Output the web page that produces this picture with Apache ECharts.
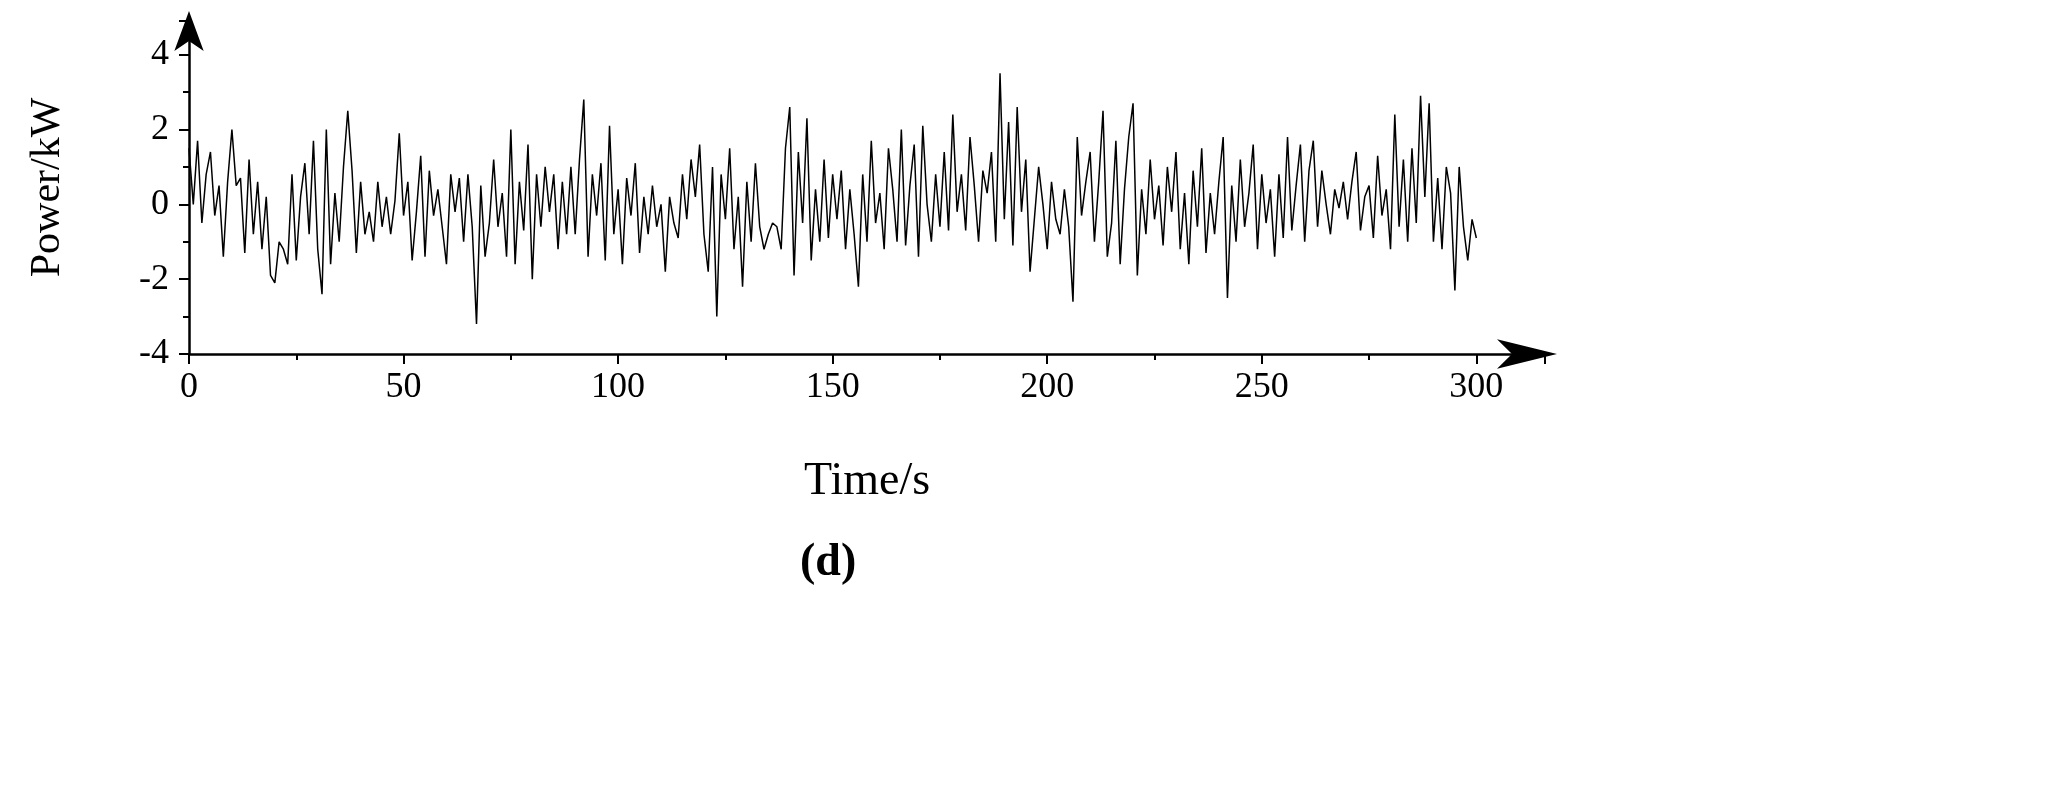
<!DOCTYPE html>
<html>
<head>
<meta charset="utf-8">
<script src="https://cdn.jsdelivr.net/npm/echarts@6/dist/echarts.min.js"></script>
<style>
  html, body { margin: 0; padding: 0; background: #fff; }
  #chart { width: 2053px; height: 804px; }
</style>
</head>
<body>
<div id="chart"></div>
<script>
// 功率信号, 每秒一个点
var powerValues = [
  1.5, 0.0, 1.7, -0.5, 0.8, 1.4, -0.3, 0.5, -1.4, 0.6,
  2.0, 0.5, 0.7, -1.3, 1.2, -0.8, 0.6, -1.2, 0.2, -1.9,
  -2.1, -1.0, -1.2, -1.6, 0.8, -1.5, 0.2, 1.1, -0.8, 1.7,
  -1.2, -2.4, 2.0, -1.6, 0.3, -1.0, 1.0, 2.5, 0.9, -1.3,
  0.6, -0.8, -0.2, -1.0, 0.6, -0.6, 0.2, -0.8, 0.1, 1.9,
  -0.3, 0.6, -1.5, -0.2, 1.3, -1.4, 0.9, -0.3, 0.4, -0.6,
  -1.6, 0.8, -0.2, 0.7, -1.0, 0.8, -0.6, -3.2, 0.5, -1.4,
  -0.5, 1.2, -0.6, 0.3, -1.4, 2.0, -1.6, 0.6, -0.7, 1.6,
  -2.0, 0.8, -0.6, 1.0, -0.2, 0.8, -1.2, 0.6, -0.8, 1.0,
  -0.8, 1.2, 2.8, -1.4, 0.8, -0.3, 1.1, -1.5, 2.1, -0.8,
  0.4, -1.6, 0.7, -0.3, 1.1, -1.3, 0.2, -0.8, 0.5, -0.6,
  0.0, -1.8, 0.2, -0.5, -0.9, 0.8, -0.4, 1.2, 0.2, 1.6,
  -0.8, -1.8, 1.0, -3.0, 0.8, -0.4, 1.5, -1.2, 0.2, -2.2,
  0.6, -1.0, 1.1, -0.6, -1.2, -0.8, -0.5, -0.6, -1.2, 1.5,
  2.6, -1.9, 1.4, -0.5, 2.3, -1.5, 0.4, -1.0, 1.2, -0.9,
  0.8, -0.4, 0.9, -1.2, 0.4, -0.8, -2.2, 0.8, -1.0, 1.7,
  -0.5, 0.3, -1.2, 1.5, 0.4, -1.0, 2.0, -1.1, 0.5, 1.6,
  -1.4, 2.1, 0.0, -1.0, 0.8, -0.6, 1.4, -0.7, 2.4, -0.2,
  0.8, -0.7, 1.8, 0.5, -1.0, 0.9, 0.3, 1.4, -1.0, 3.5,
  -0.4, 2.2, -1.1, 2.6, -0.2, 1.2, -1.8, -0.4, 1.0, 0.0,
  -1.2, 0.6, -0.4, -0.8, 0.4, -0.6, -2.6, 1.8, -0.3, 0.6,
  1.4, -1.0, 0.6, 2.5, -1.4, -0.5, 1.7, -1.6, 0.4, 1.8,
  2.7, -1.9, 0.4, -0.8, 1.2, -0.4, 0.5, -1.1, 1.0, -0.2,
  1.4, -1.2, 0.3, -1.6, 0.9, -0.6, 1.5, -1.3, 0.3, -0.8,
  0.6, 1.8, -2.5, 0.5, -1.0, 1.2, -0.6, 0.3, 1.6, -1.2,
  0.8, -0.5, 0.4, -1.4, 0.8, -0.9, 1.8, -0.7, 0.5, 1.6,
  -1.0, 0.9, 1.7, -0.6, 0.9, 0.0, -0.8, 0.4, -0.1, 0.6,
  -0.4, 0.6, 1.4, -0.7, 0.2, 0.5, -0.9, 1.3, -0.3, 0.4,
  -1.2, 2.4, -0.6, 1.2, -1.0, 1.5, -0.5, 2.9, 0.2, 2.7,
  -1.0, 0.7, -1.2, 1.0, 0.3, -2.3, 1.0, -0.6, -1.5, -0.4,
  -0.9
];
var timeStep = 1;
var xTickLabels = [0, 50, 100, 150, 200, 250, 300];
var yTickLabels = [-4, -2, 0, 2, 4];

var seriesData = powerValues.map(function (v, i) { return [i * timeStep, v]; });

var chart = echarts.init(document.getElementById('chart'));
var font = 'Liberation Serif';

var option = {
    animation: false,
    backgroundColor: '#fff',
    grid: { left: 189, right: 508, top: 21, bottom: 450 },
    xAxis: {
        type: 'value',
        min: 0, max: 316, interval: 50,
        axisLine: { onZero: false, lineStyle: { color: '#000', width: 2.5 }, symbol: ['none', 'arrow'], symbolSize: [22, 60], symbolOffset: [0, 12] },
        axisTick: { show: true, length: 10, lineStyle: { color: '#000', width: 2 } },
        minorTick: { show: true, splitNumber: 2, length: 6, lineStyle: { color: '#000', width: 2 } },
        axisLabel: {
            color: '#000', fontFamily: font, fontSize: 36, margin: 16,
            formatter: function (v) { return xTickLabels.indexOf(v) >= 0 ? v : ''; }
        },
        splitLine: { show: false },
        name: 'Time/s', nameLocation: 'middle', nameGap: 105,
        nameTextStyle: { color: '#000', fontFamily: font, fontSize: 46 }
    },
    yAxis: {
        type: 'value',
        min: -4, max: 4.9, interval: 2,
        axisLine: { show: true, onZero: false, lineStyle: { color: '#000', width: 2.5 }, symbol: ['none', 'arrow'], symbolSize: [22, 40], symbolOffset: [0, 10] },
        axisTick: { show: true, length: 10, lineStyle: { color: '#000', width: 2 } },
        minorTick: { show: true, splitNumber: 2, length: 6, lineStyle: { color: '#000', width: 2 } },
        axisLabel: {
            color: '#000', fontFamily: font, fontSize: 36, margin: 20,
            formatter: function (v) { return yTickLabels.indexOf(v) >= 0 ? v : ''; }
        },
        splitLine: { show: false },
        name: 'Power/kW', nameLocation: 'middle', nameGap: 120, nameRotate: 90,
        nameTextStyle: { color: '#000', fontFamily: font, fontSize: 42 }
    },
    graphic: [{
        type: 'text', left: 800, top: 540,
        style: { text: '(d)', font: 'bold 46px "Liberation Serif"', fill: '#000' }
    }],
    series: [{
        type: 'line',
        data: seriesData,
        showSymbol: false,
        lineStyle: { color: '#000', width: 1.5 }
    }]
};

chart.setOption(option);
</script>
</body>
</html>
